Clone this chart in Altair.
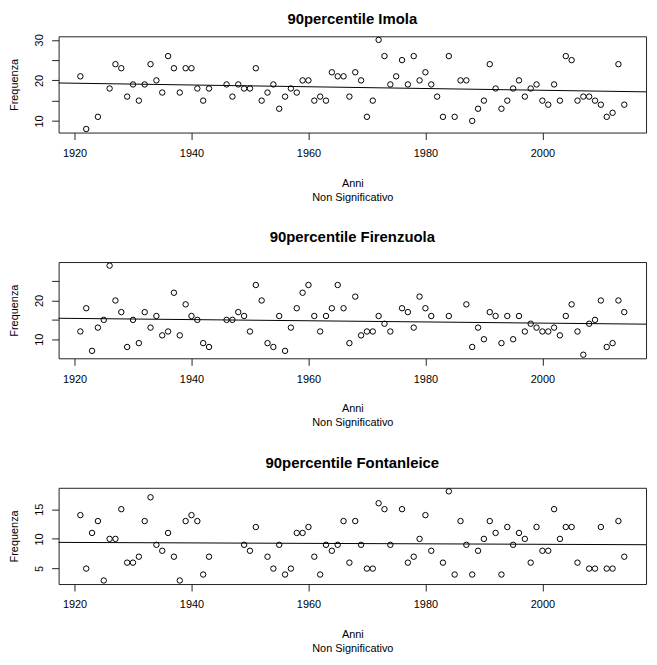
import altair as alt
import pandas as pd

# ---- data ----
imola_years = [1921, 1922, 1924] + list(range(1926, 1944)) + list(range(1946, 2015))
imola_values = [21, 8, 11,
                18, 24, 23, 16, 19, 15, 19, 24, 20, 17, 26, 23, 17, 23, 23, 18, 15, 18,
                19, 16, 19, 18, 18, 23, 15, 17, 19, 13, 16, 18, 17, 20, 20, 15, 16, 15,
                22, 21, 21, 16, 22, 20, 11, 15, 30, 26, 19, 21, 25, 19, 26, 20, 22, 19,
                16, 11, 26, 11, 20, 20, 10, 13, 15, 24, 18, 13, 15, 18, 20, 16, 18, 19,
                15, 14, 19, 15, 26, 25, 15, 16, 16, 15, 14, 11, 12, 24, 14]

firenzuola_years = (list(range(1921, 1944)) + list(range(1946, 1975)) +
                    list(range(1976, 1982)) + [1984] + list(range(1987, 2015)))
firenzuola_values = [12, 18, 7, 13, 15, 29, 20, 17, 8, 15, 9, 17, 13, 16, 11, 12, 22, 11, 19, 16, 15, 9, 8,
                     15, 15, 17, 16, 12, 24, 20, 9, 8, 16, 7, 13, 18, 22, 24, 16, 12, 16, 18, 24, 18, 9,
                     21, 11, 12, 12, 16, 14, 12,
                     18, 17, 13, 21, 18, 16,
                     16,
                     19, 8, 13, 10, 17, 16, 9, 16, 10, 16, 12, 14, 13, 12, 12, 13, 11, 16, 19, 12, 6,
                     14, 15, 20, 8, 9, 20, 17]

fontanleice_years = (list(range(1921, 1944)) + list(range(1949, 1952)) + list(range(1953, 1975)) +
                     list(range(1976, 1982)) + list(range(1983, 2007)) + list(range(2008, 2015)))
fontanleice_values = [14, 5, 11, 13, 3, 10, 10, 15, 6, 6, 7, 13, 17, 9, 8, 11, 7, 3, 13, 14, 13, 4, 7,
                      9, 8, 12,
                      7, 5, 9, 4, 5, 11, 11, 12, 7, 4, 9, 8, 9, 13, 6, 13, 9, 5, 5, 16, 15, 9,
                      15, 6, 7, 10, 14, 8,
                      6, 18, 4, 13, 9, 4, 8, 10, 13, 11, 4, 12, 9, 11, 10, 6, 12, 8, 8, 15, 10, 12, 12, 6,
                      5, 5, 12, 5, 5, 13, 7]

titles = ["90percentile Imola", "90percentile Firenzuola", "90percentile Fontanleice"]
x_tick_values = [1920, 1940, 1960, 1980, 2000]
y_tick_values = [[10, 15, 20, 25, 30], [10, 15, 20, 25], [5, 10, 15]]
y_label_values = [[10, 20, 30], [10, 20], [5, 10, 15]]
title_offsets = [7, 16, 16]

FONT = "Liberation Sans"


def r_range(vals):
    lo, hi = min(vals), max(vals)
    d = (hi - lo) * 0.04
    return [lo - d, hi + d]


all_years = imola_years + firenzuola_years + fontanleice_years
X_DOMAIN = r_range(all_years)


def panel(years, values, title, yticks, ylabels, toff):
    df = pd.DataFrame({"Anno": years, "Frequenza": values})
    ydom = r_range(values)
    cond = " || ".join("abs(datum.value - %d) < 0.01" % v for v in ylabels)
    lexpr = "(%s) ? format(datum.value, 'd') : ''" % cond
    x = alt.X("Anno:Q",
              scale=alt.Scale(domain=X_DOMAIN, nice=False, zero=False),
              axis=alt.Axis(values=x_tick_values, format="d",
                            title=["Anni", "Non Significativo"],
                            labelPadding=8, titlePadding=19, titleLineHeight=14))
    y = alt.Y("Frequenza:Q",
              scale=alt.Scale(domain=ydom, nice=False, zero=False),
              axis=alt.Axis(values=yticks, labelExpr=lexpr, title="Frequenza",
                            labelAngle=270, labelAlign="center", labelBaseline="bottom",
                            labelOverlap=False, labelBound=False, labelFlush=False,
                            labelPadding=7, titlePadding=14))
    pts = alt.Chart(df).mark_point(shape="circle", filled=False, color="black",
                                   size=30, strokeWidth=1, opacity=1).encode(x=x, y=y)
    trend = (alt.Chart(df)
             .transform_regression("Anno", "Frequenza", extent=X_DOMAIN)
             .mark_line(color="black", strokeWidth=1)
             .encode(x=x, y=y))
    return alt.layer(pts, trend).properties(
        width=592, height=97,
        title=alt.TitleParams(title, anchor="middle", frame="group", offset=toff,
                              fontSize=15, fontWeight="bold", font=FONT, color="black"))


chart = alt.vconcat(
    panel(imola_years, imola_values, titles[0], y_tick_values[0], y_label_values[0], title_offsets[0]),
    panel(firenzuola_years, firenzuola_values, titles[1], y_tick_values[1], y_label_values[1], title_offsets[1]),
    panel(fontanleice_years, fontanleice_values, titles[2], y_tick_values[2], y_label_values[2], title_offsets[2]),
    spacing=26.5,
).properties(
    padding={"left": 0, "top": 0, "right": 0, "bottom": 0},
    background="white",
).configure_view(
    stroke="#222", strokeWidth=1
).configure_axis(
    labelFont=FONT, titleFont=FONT, labelFontSize=11, titleFontSize=11,
    titleFontWeight="normal", labelColor="black", titleColor="black",
    tickColor="#222", tickSize=7, domain=False, grid=False, labelOverlap=False,
)

chart.save("out.html", embed_options={"renderer": "svg", "actions": False})
